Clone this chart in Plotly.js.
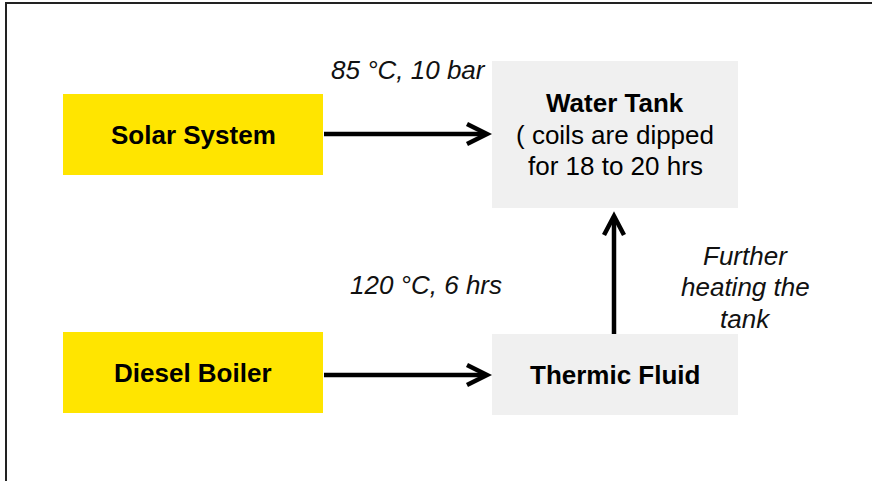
<!DOCTYPE html>
<html>
<head>
<meta charset="utf-8">
<script src="https://cdn.plot.ly/plotly-3.0.1.min.js"></script>
<style>html,body{margin:0;padding:0;background:#fff;}#chart{width:872px;height:481px;}</style>
</head>
<body>
<div id="chart"></div>
<script>
// ---- diagram content ----
const nodeIds = ["solar", "diesel", "tank", "fluid"];
const nodeTitles = ["Solar System", "Diesel Boiler", "Water Tank", "Thermic Fluid"];
const nodeNotes = [[], [], ["( coils are dipped", "for 18 to 20 hrs"], []];
const nodeKinds = ["source", "source", "sink", "sink"];
const edgeFrom = ["solar", "diesel", "fluid"];
const edgeTo = ["tank", "fluid", "tank"];
const edgeLabels = [["85 °C, 10 bar"], ["120 °C, 6 hrs"], ["Further", "heating the", "tank"]];

// ---- layout (pixel geometry, kept separate from content) ----
const boxGeom = {
  solar:  {x0: 63,  x1: 323, y0: 94,  y1: 175},
  diesel: {x0: 63,  x1: 323, y0: 332, y1: 413},
  tank:   {x0: 492, x1: 738, y0: 61,  y1: 208},
  fluid:  {x0: 492, x1: 738, y0: 334, y1: 415}
};
const edgeGeom = [
  {x0: 324, y0: 134, x1: 487, y1: 134, lx: 408, ly: 70},
  {x0: 324, y0: 375, x1: 487, y1: 375, lx: 426, ly: 285},
  {x0: 614, y0: 334, x1: 614, y1: 216, lx: 745, ly: 287}
];
const kindFill = {source: "#FFE500", sink: "#F0F0F0"};
const FONT = "Liberation Sans, Arial, sans-serif";
const FS = 26;
const LINE = 31.5;

const shapes = [];
const annotations = [];

function addLines(lines, cx, cy, fmt, color) {
  const n = lines.length;
  lines.forEach((t, k) => {
    annotations.push({x: cx, y: cy + (k - (n - 1) / 2) * LINE, xref: "x", yref: "y",
      text: fmt(t), showarrow: false, xanchor: "center", yanchor: "middle", align: "center",
      font: {family: FONT, size: FS, color: color}});
  });
}

// border
shapes.push({type: "path", xref: "x", yref: "y", path: "M 6 481 L 6 3 L 872 3",
  line: {color: "#222", width: 2}});

nodeIds.forEach((id, i) => {
  const g = boxGeom[id];
  shapes.push({type: "rect", xref: "x", yref: "y", x0: g.x0, x1: g.x1, y0: g.y0, y1: g.y1,
    fillcolor: kindFill[nodeKinds[i]], line: {width: 0}, layer: "below"});
  const lines = ["<b>" + nodeTitles[i] + "</b>"].concat(nodeNotes[i]);
  addLines(lines, (g.x0 + g.x1) / 2, (g.y0 + g.y1) / 2, t => t, "#000");
});

edgeFrom.forEach((f, i) => {
  const e = edgeGeom[i];
  shapes.push({type: "line", xref: "x", yref: "y", x0: e.x0, y0: e.y0,
    x1: e.x1 - (e.x1 > e.x0 ? 2 : 0), y1: e.y1 + (e.y1 < e.y0 ? 2 : 0),
    line: {color: "#000", width: 4.5}});
  let p;
  if (e.y0 === e.y1) {
    p = `M ${e.x1 - 20} ${e.y1 - 10} L ${e.x1} ${e.y1} L ${e.x1 - 20} ${e.y1 + 10}`;
  } else {
    p = `M ${e.x1 - 10} ${e.y1 + 19} L ${e.x1} ${e.y1} L ${e.x1 + 10} ${e.y1 + 19}`;
  }
  shapes.push({type: "path", xref: "x", yref: "y", path: p, line: {color: "#000", width: 4.5}});
  addLines(edgeLabels[i], e.lx, e.ly, t => "<i>" + t + "</i>", "#111");
});

const layout = {
  width: 872, height: 481,
  margin: {l: 0, r: 0, t: 0, b: 0},
  paper_bgcolor: "#fff", plot_bgcolor: "#fff",
  xaxis: {range: [0, 872], visible: false, fixedrange: true},
  yaxis: {range: [481, 0], visible: false, fixedrange: true},
  shapes: shapes, annotations: annotations, showlegend: false
};
Plotly.newPlot("chart", [], layout, {staticPlot: true, displayModeBar: false});
</script>
</body>
</html>
